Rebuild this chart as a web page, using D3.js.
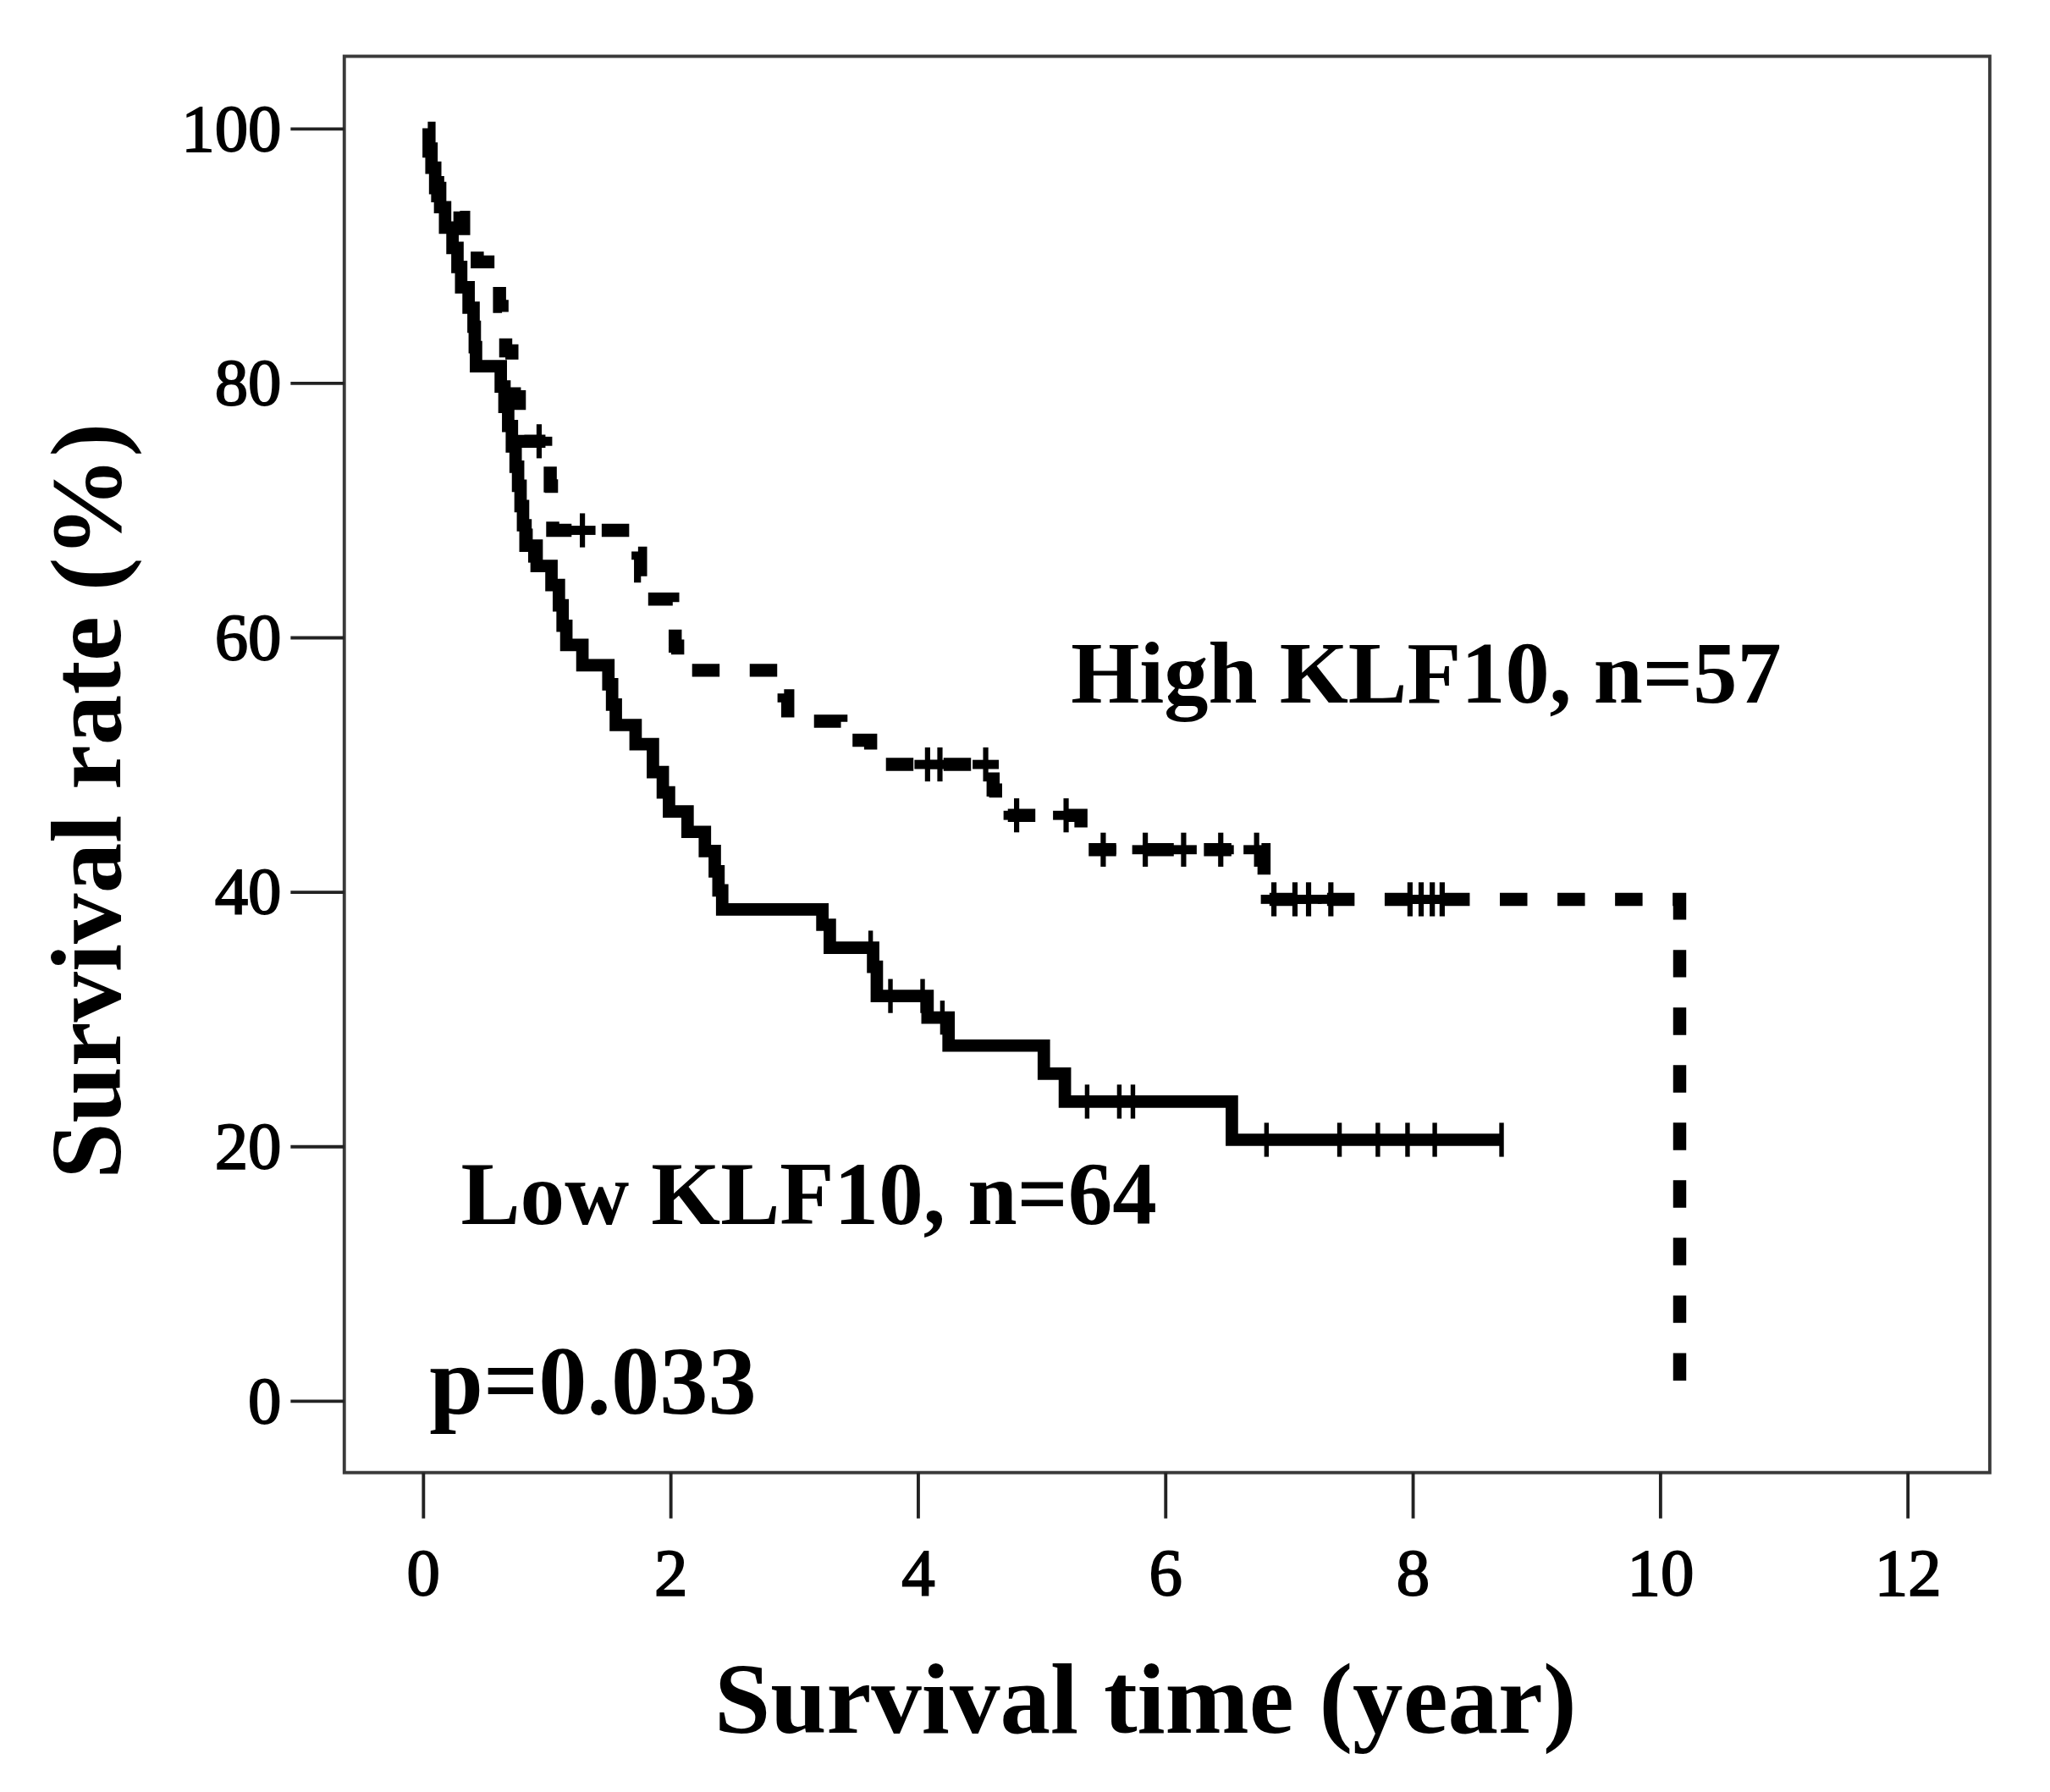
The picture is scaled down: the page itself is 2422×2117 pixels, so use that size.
<!DOCTYPE html>
<html>
<head>
<meta charset="utf-8">
<script src="https://cdn.jsdelivr.net/npm/d3@7"></script>
<style>
  html, body { margin: 0; padding: 0; background: #fff; }
  svg { display: block; }
</style>
</head>
<body>
<svg id="chart"></svg>
<script>
// ---- data ----
const xTicks = [0, 2, 4, 6, 8, 10, 12];
const yTicks = [0, 20, 40, 60, 80, 100];

// Low KLF10 (solid) : step vertices (time in years, survival %)
const lowTime = [0.04, 0.07, 0.10, 0.14, 0.18, 0.24, 0.28, 0.31, 0.37, 0.41, 0.42, 0.43, 0.63, 0.66, 0.69, 0.72, 0.75, 0.77, 0.79, 0.81, 0.83, 0.92, 1.04, 1.10, 1.13, 1.16, 1.29, 1.50, 1.53, 1.56, 1.72, 1.86, 1.94, 1.99, 2.14, 2.28, 2.36, 2.39, 2.42, 3.23, 3.29, 3.64, 3.67, 4.08, 4.25, 5.02, 5.19, 6.54];
const lowSurv = [98.4, 96.9, 95.3, 93.8, 92.2, 90.6, 89.1, 87.5, 85.9, 84.4, 82.8, 81.3, 79.7, 78.1, 76.6, 75.0, 73.4, 71.9, 70.3, 68.8, 67.2, 65.6, 64.1, 62.5, 60.9, 59.4, 57.8, 56.3, 54.7, 53.1, 51.6, 49.4, 47.8, 46.3, 44.7, 43.2, 41.6, 40.1, 38.6, 37.4, 35.6, 34.1, 31.8, 30.1, 27.9, 25.7, 23.5, 20.5];
const lowEnd = 8.72;
const lowCensor = [0.87, 3.62, 3.78, 4.04, 4.20, 5.37, 5.63, 5.74, 6.82, 7.41, 7.72, 7.96, 8.18, 8.72];

// High KLF10 (dashed)
const highTime = [0.04, 0.05, 0.08, 0.12, 0.30, 0.33, 0.44, 0.60, 0.62, 0.64, 0.67, 0.72, 0.74, 0.78, 0.82, 1.02, 1.03, 1.04, 1.05, 1.74, 1.76, 1.78, 2.02, 2.04, 2.06, 2.92, 2.95, 3.38, 3.62, 4.61, 4.63, 5.32, 6.80, 10.16];
const highSurv = [100, 98.2, 96.5, 94.7, 93.0, 91.2, 89.5, 87.7, 86.0, 84.2, 82.5, 80.7, 78.9, 77.2, 75.4, 73.6, 71.9, 70.2, 68.4, 66.6, 64.8, 63.0, 61.2, 59.3, 57.4, 55.4, 53.4, 51.9, 50.0, 48.0, 46.0, 43.3, 39.4, 0];
const highEnd = 10.16;
const highCensor = [0.94, 1.29, 4.08, 4.18, 4.55, 4.80, 5.20, 5.50, 5.84, 6.15, 6.45, 6.74, 6.88, 7.05, 7.16, 7.34, 7.98, 8.07, 8.16, 8.24];

const labelHigh = "High KLF10, n=57";
const labelLow = "Low KLF10, n=64";
const pText = "p=0.033";
const xTitle = "Survival time (year)";
const yTitle = "Survival rate (%)";

// ---- drawing ----
const VW = 1566, VH = 1369;
const svg = d3.select("#chart")
  .attr("width", 2422).attr("height", 2117)
  .attr("viewBox", `0 0 ${VW} ${VH}`)
  .attr("preserveAspectRatio", "none");

const serif = "'Liberation Serif', 'Times New Roman', serif";
const frame = {l: 263, r: 1520, t: 43, b: 1125};

const x = d3.scaleLinear().domain([0, 12]).range([323, 1457]);
const y = d3.scaleLinear().domain([0, 100]).range([1070, 98]);

svg.append("rect").attr("x", 0).attr("y", 0).attr("width", VW).attr("height", VH).attr("fill", "#fff");

// frame
svg.append("rect")
  .attr("x", frame.l).attr("y", frame.t)
  .attr("width", frame.r - frame.l).attr("height", frame.b - frame.t)
  .attr("fill", "none").attr("stroke", "#3a3a3a").attr("stroke-width", 2.5);

// y axis
const yAxis = svg.append("g").attr("transform", `translate(${frame.l},0)`)
  .call(d3.axisLeft(y).tickValues(yTicks).tickSize(41).tickPadding(7));
yAxis.select(".domain").remove();
yAxis.selectAll(".tick line").attr("stroke", "#222").attr("stroke-width", 2.5);
yAxis.selectAll(".tick text").attr("font-family", serif).attr("font-size", 51)
  .attr("fill", "#000").attr("stroke", "#000").attr("stroke-width", 1.2);

// x axis
const xAxis = svg.append("g").attr("transform", `translate(0,${frame.b})`)
  .call(d3.axisBottom(x).tickValues(xTicks).tickSize(35).tickPadding(22));
xAxis.select(".domain").remove();
xAxis.selectAll(".tick line").attr("stroke", "#222").attr("stroke-width", 2.5);
xAxis.selectAll(".tick text").attr("font-family", serif).attr("font-size", 51)
  .attr("fill", "#000").attr("stroke", "#000").attr("stroke-width", 1.2);

// titles
svg.append("text").attr("x", 875).attr("y", 1324).attr("text-anchor", "middle")
  .attr("font-family", serif).attr("font-weight", "bold").attr("font-size", 77)
  .text(xTitle);
svg.append("text").attr("transform", "translate(92,612) rotate(-90)").attr("text-anchor", "middle")
  .attr("font-family", serif).attr("font-weight", "bold").attr("font-size", 77)
  .text(yTitle);

// step lines
function pts(times, surv, end) {
  const p = times.map((t, i) => [t, surv[i]]);
  if (end > times[times.length - 1]) p.push([end, surv[surv.length - 1]]);
  return p;
}
const line = d3.line().x(d => x(d[0])).y(d => y(d[1])).curve(d3.curveStepAfter);
function survAt(times, surv, t) {
  let s = surv[0];
  for (let i = 0; i < times.length; i++) if (times[i] <= t) s = surv[i];
  return s;
}

const g = svg.append("g");
g.append("path").attr("d", line(pts(lowTime, lowSurv, lowEnd)))
  .attr("fill", "none").attr("stroke", "#000").attr("stroke-width", 9.5)
  .attr("stroke-linejoin", "miter");
g.append("path").attr("d", line(pts(highTime, highSurv, highEnd)))
  .attr("fill", "none").attr("stroke", "#000").attr("stroke-width", 10)
  .attr("stroke-dasharray", "21,23");

// censor marks
g.selectAll(".cl").data(lowCensor).enter().append("line")
  .attr("x1", d => x(d)).attr("x2", d => x(d))
  .attr("y1", d => y(survAt(lowTime, lowSurv, d)) - 13)
  .attr("y2", d => y(survAt(lowTime, lowSurv, d)) + 13)
  .attr("stroke", "#000").attr("stroke-width", 3.5);
g.selectAll(".chv").data(highCensor).enter().append("line")
  .attr("x1", d => x(d)).attr("x2", d => x(d))
  .attr("y1", d => y(survAt(highTime, highSurv, d)) - 13)
  .attr("y2", d => y(survAt(highTime, highSurv, d)) + 13)
  .attr("stroke", "#000").attr("stroke-width", 4);
g.selectAll(".chh").data(highCensor).enter().append("line")
  .attr("x1", d => x(d) - 10).attr("x2", d => x(d) + 10)
  .attr("y1", d => y(survAt(highTime, highSurv, d)))
  .attr("y2", d => y(survAt(highTime, highSurv, d)))
  .attr("stroke", "#000").attr("stroke-width", 7);

// annotations
svg.append("text").attr("x", 818).attr("y", 537)
  .attr("font-family", serif).attr("font-weight", "bold").attr("font-size", 67.5)
  .text(labelHigh);
svg.append("text").attr("x", 352).attr("y", 935)
  .attr("font-family", serif).attr("font-weight", "bold").attr("font-size", 68)
  .text(labelLow);
svg.append("text").attr("x", 328).attr("y", 1080)
  .attr("font-family", serif).attr("font-weight", "bold").attr("font-size", 74)
  .text(pText);
</script>
</body>
</html>
